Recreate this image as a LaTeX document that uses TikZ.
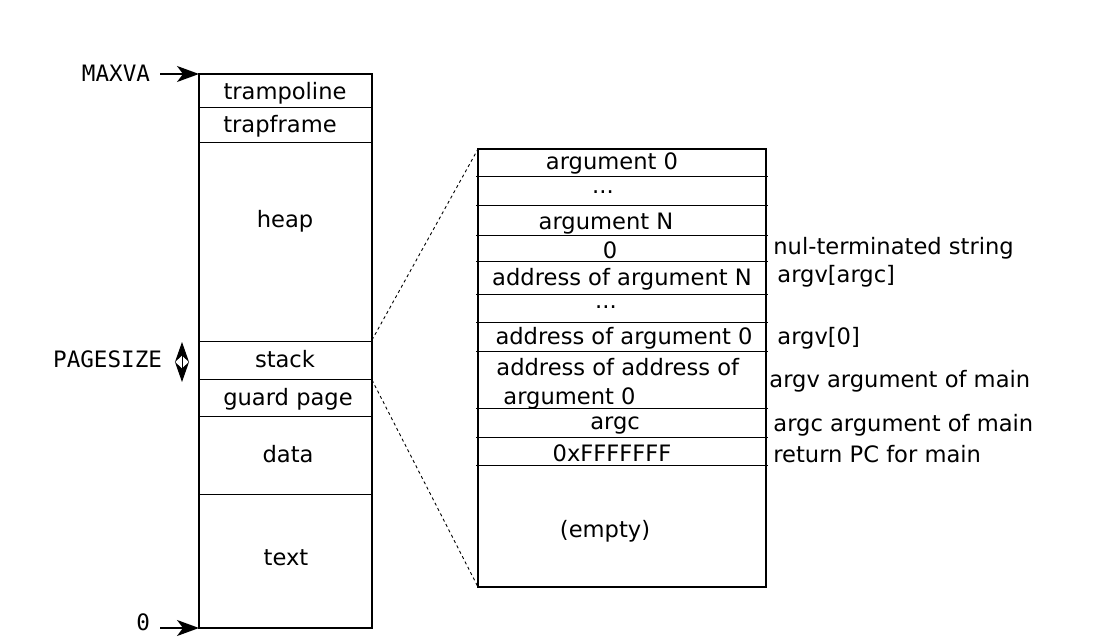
\documentclass[tikz,border=0pt]{standalone}
\usepackage{fontspec}
\setmainfont{DejaVu Sans}
\setmonofont{DejaVu Sans Mono}
\usetikzlibrary{arrows.meta, positioning}

\begin{document}
\begin{tikzpicture}[x=0.5pt, y=-0.5pt, font=\fontsize{11.3}{13}\selectfont,
    lbl/.style={inner sep=0pt, yshift=-0.8pt},
    addr/.style={inner sep=0pt, outer sep=5pt, font=\fontsize{11.3}{13}\selectfont\ttfamily},
    sep/.style={line width=0.5pt},
    ptr/.style={-{Stealth[length=11pt,width=8pt,inset=3pt]}, line width=0.7pt},
    zoomline/.style={dash pattern=on 1.5pt off 1.5pt, line width=0.45pt}]
    \useasboundingbox (0,0) rectangle (1117,640);

    % address space
    \coordinate (top) at (199,74);
    \coordinate (bot) at (199,628);
    \draw[line width=1pt] (top) rectangle (372,628);
    \foreach \y in {108,143,342,380,417,494}
        \draw[sep] (199,\y) -- (372,\y);
    \node[lbl] (trampoline) at (285,92) {trampoline};
    \node[lbl] (trapframe) at (280,125) {trapframe};
    \node[lbl] (heap) at (285,220) {heap};
    \node[lbl] (stack) at (285,357) {stack};
    \node[lbl] (guard) at (288,398) {guard page};
    \node[lbl] (data) at (288,452) {data};
    \node[lbl] (text) at (286,556) {text};

    % addresses
    \node[addr, anchor=east] (maxva) at (160,73) {MAXVA};
    \draw[ptr] (maxva.east |- top) -- (top);
    \node[addr, anchor=east] (zero) at (160,622) {0};
    \draw[ptr] (zero.east |- bot) -- (bot);
    \node[addr, anchor=east] (pagesize) at (172,359) {PAGESIZE};
    \coordinate (ps top) at (182,342);
    \coordinate (ps bot) at (182,382);
    \draw[{Stealth[length=10pt,width=7pt]}-{Stealth[length=10pt,width=7pt]}, line width=0.5pt] (ps top) -- (ps bot);

    % user stack
    \coordinate (frame top) at (478,149);
    \coordinate (frame bot) at (478,587);
    \draw[line width=0.6pt] (frame top) rectangle (766,587);
    \foreach \y in {177,206,236,262,295,323,352,409,437,465}
        \draw[sep] (476,\y) -- (768,\y);
    \node[lbl] (arg0) at (612,162) {argument 0};
    \node[lbl] (dots1) at (603,191) {...};
    \node[lbl] (argN) at (606,222) {argument N};
    \node[lbl] (nul) at (610,249) {0};
    \node[lbl] (addrN) at (622,278) {address of argument N};
    \node[lbl] (dots2) at (606,306) {...};
    \node[lbl] (addr0) at (624,337) {address of argument 0};
    \node[lbl, anchor=west, align=left, font=\fontsize{11.3}{14.5}\selectfont] (argv) at (496,382)
        {address of address of\\\hspace{3.5pt}argument 0};
    \node[lbl] (argc) at (615,424) {argc};
    \node[lbl] (retpc) at (612,452) {0xFFFFFFF};
    \node[lbl] (empty) at (605,530) {(empty)};

    % notes
    \node[lbl, anchor=west] (n1) at (773,247) {nul-terminated string};
    \node[lbl, anchor=west] (n2) at (777,275) {argv[argc]};
    \node[lbl, anchor=west] (n3) at (777,337) {argv[0]};
    \node[lbl, anchor=west] (n4) at (769,380) {argv argument of main};
    \node[lbl, anchor=west] (n5) at (773,424) {argc argument of main};
    \node[lbl, anchor=west] (n6) at (773,452) {return PC for main};

    % zoom lines
    \coordinate (stk top) at (372,340);
    \coordinate (stk bot) at (372,380);
    \draw[zoomline] (stk top) -- (frame top);
    \draw[zoomline] (stk bot) -- (frame bot);
\end{tikzpicture}
\end{document}
